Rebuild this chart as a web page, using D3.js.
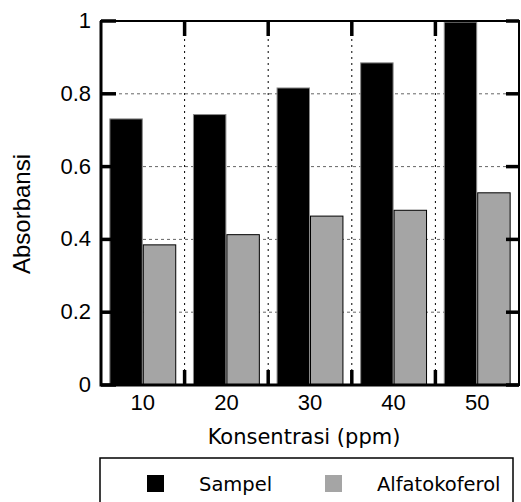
<!DOCTYPE html>
<html>
<head>
<meta charset="utf-8">
<script src="https://cdn.jsdelivr.net/npm/d3@7"></script>
<style>
  body { margin: 0; background: #fff; }
  svg { display: block; }
</style>
</head>
<body>
<div id="chart"></div>
<script>
// data
var categories = ['10', '20', '30', '40', '50'];
var seriesNames = ['Sampel', 'Alfatokoferol'];
var sampel = [0.731, 0.743, 0.816, 0.885, 0.997];
var alfatokoferol = [0.385, 0.413, 0.464, 0.480, 0.528];
var yTicks = [0, 0.2, 0.4, 0.6, 0.8, 1];

var colors = { 'Sampel': '#000000', 'Alfatokoferol': '#a5a5a5' };
var strokes = { 'Sampel': '#8a8a8a', 'Alfatokoferol': '#000000' };

var svgWidth = 521, svgHeight = 502;
var plot = { left: 101, right: 519, top: 21, bottom: 385 };

var svg = d3.select('#chart')
    .append('svg')
    .attr('width', svgWidth)
    .attr('height', svgHeight);

// table built from the arrays
var rows = categories.map((c, i) => ({ cat: c, values: [
    { name: 'Sampel', value: sampel[i] },
    { name: 'Alfatokoferol', value: alfatokoferol[i] }
] }));

// scales
var x = d3.scaleBand()
    .domain(categories)
    .range([plot.left, plot.right])
    .paddingInner(0.2)
    .paddingOuter(0.1);

var xSub = d3.scaleBand()
    .domain(seriesNames)
    .range([0, x.bandwidth()])
    .padding(0);

var y = d3.scaleLinear()
    .domain([0, 1])
    .range([plot.bottom, plot.top]);

// boundaries between categories
var xEdge = d3.scaleLinear()
    .domain([0, categories.length])
    .range([plot.left, plot.right]);
var edges = [1, 2, 3, 4];

// gridlines
var grid = svg.append('g');
grid.selectAll(null)
    .data(yTicks.filter(t => t > 0 && t < 1))
    .enter()
    .append('line')
    .attr('x1', plot.left).attr('x2', plot.right)
    .attr('y1', d => y(d)).attr('y2', d => y(d))
    .attr('stroke', '#666')
    .attr('stroke-width', 1)
    .attr('stroke-dasharray', '3,3');

grid.selectAll(null)
    .data(edges)
    .enter()
    .append('line')
    .attr('x1', d => xEdge(d)).attr('x2', d => xEdge(d))
    .attr('y1', plot.top).attr('y2', plot.bottom)
    .attr('stroke', '#000')
    .attr('stroke-width', 1)
    .attr('stroke-dasharray', '2,4');

// bars
var groups = svg.selectAll(null)
    .data(rows)
    .enter()
    .append('g')
    .attr('transform', d => `translate(${x(d.cat)},0)`);

groups.selectAll('rect')
    .data(d => d.values)
    .enter()
    .append('rect')
    .attr('x', d => xSub(d.name) + 0.5)
    .attr('y', d => y(d.value))
    .attr('width', xSub.bandwidth() - 1)
    .attr('height', d => plot.bottom - y(d.value))
    .attr('fill', d => colors[d.name])
    .attr('stroke', d => strokes[d.name])
    .attr('stroke-width', 1);

// tick marks as small filled rects, pointing into the plot
var tickMarks = svg.append('g').attr('fill', '#000');
var tw = 3.5;

tickMarks.selectAll(null).data(yTicks).enter().append('rect')
    .attr('x', plot.left).attr('width', 15)
    .attr('y', d => y(d) - tw / 2).attr('height', tw);

tickMarks.selectAll(null).data(yTicks).enter().append('rect')
    .attr('x', plot.right - 13).attr('width', 13)
    .attr('y', d => y(d) - tw / 2).attr('height', tw);

tickMarks.selectAll(null).data(edges).enter().append('rect')
    .attr('x', d => xEdge(d) - tw / 2).attr('width', tw)
    .attr('y', plot.top).attr('height', 15);

tickMarks.selectAll(null).data(edges).enter().append('rect')
    .attr('x', d => xEdge(d) - tw / 2).attr('width', tw)
    .attr('y', plot.bottom - 15).attr('height', 15);

// tick labels
var tickFont = '"Liberation Sans", Arial, sans-serif';

svg.append('g')
    .selectAll(null)
    .data(yTicks)
    .enter()
    .append('text')
    .attr('x', 91)
    .attr('y', d => y(d) + 7)
    .attr('text-anchor', 'end')
    .attr('font-family', tickFont)
    .attr('font-size', 22)
    .text(d3.format(''));

svg.append('g')
    .selectAll(null)
    .data(categories)
    .enter()
    .append('text')
    .attr('x', d => x(d) + x.bandwidth() / 2)
    .attr('y', 410)
    .attr('text-anchor', 'middle')
    .attr('font-family', tickFont)
    .attr('font-size', 22)
    .text(d => d);

// frame: heavier on left and bottom
var frame = svg.append('g').attr('stroke', '#000').attr('fill', 'none');
frame.append('rect')
    .attr('x', plot.left)
    .attr('y', plot.top)
    .attr('width', plot.right - plot.left)
    .attr('height', plot.bottom - plot.top)
    .attr('stroke-width', 2);
frame.append('path')
    .attr('d', `M${plot.left},${plot.top}V${plot.bottom}H${plot.right}`)
    .attr('stroke-width', 3);

// axis titles
svg.append('text')
    .attr('transform', `translate(30,${(plot.top + plot.bottom) / 2 + 11}) rotate(-90)`)
    .attr('text-anchor', 'middle')
    .attr('font-family', tickFont)
    .attr('font-size', 24)
    .text('Absorbansi');

svg.append('text')
    .attr('x', 304)
    .attr('y', 444)
    .attr('text-anchor', 'middle')
    .attr('font-family', '"DejaVu Sans", Verdana, sans-serif')
    .attr('font-size', 21)
    .text('Konsentrasi (ppm)');

// legend
var legend = svg.append('g');
legend.append('rect')
    .attr('x', 100)
    .attr('y', 458)
    .attr('width', 413)
    .attr('height', 60)
    .attr('fill', '#fff')
    .attr('stroke', '#000')
    .attr('stroke-width', 1.5);

var legendX = { 'Sampel': 147, 'Alfatokoferol': 325 };
var items = legend.selectAll(null)
    .data(seriesNames)
    .enter()
    .append('g')
    .attr('transform', d => `translate(${legendX[d]},475)`);

items.append('rect')
    .attr('width', 17)
    .attr('height', 17)
    .attr('fill', d => colors[d]);

items.append('text')
    .attr('x', 52)
    .attr('y', 16)
    .attr('font-family', '"DejaVu Sans", Verdana, sans-serif')
    .attr('font-size', 19.5)
    .text(d => d);
</script>
</body>
</html>
